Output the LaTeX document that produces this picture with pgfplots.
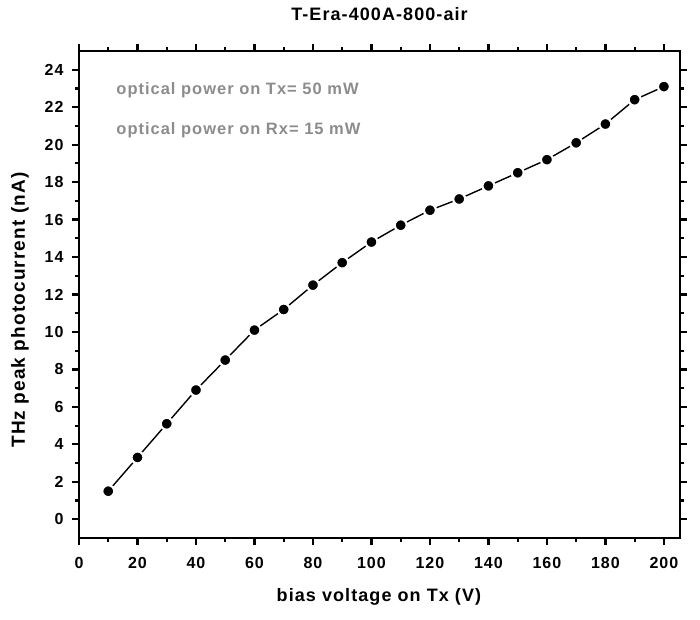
\documentclass[border=0pt]{standalone}
\usepackage{pgfplots}
\pgfplotsset{compat=1.18}
\usepackage{fontspec}
\setmainfont{Liberation Sans}[LetterSpace=6]
\begin{document}
\begin{tikzpicture}[x=1pt,y=1pt]
\useasboundingbox (-79,-81) rectangle (621,538);
\begin{axis}[
  at={(0,0)}, anchor=south west,
  scale only axis, width=601pt, height=487pt,
  xmin=0, xmax=205.5, ymin=-1, ymax=25,
  xtick={0,20,...,200}, minor x tick num=1,
  ytick={0,2,...,24}, minor y tick num=1,
  tick align=outside, major tick length=7pt, minor tick length=4pt,
  axis line style={line width=2.6pt},
  every tick/.style={line width=2.2pt, black},
  /pgf/number format/assume math mode=true,
  tick label style={font=\bfseries\fontsize{16}{16}\selectfont},
  xticklabel style={yshift=-9pt},
  yticklabel style={xshift=-5pt},
  title={T-Era-400A-800-air},
  title style={font=\bfseries\fontsize{18}{20}\selectfont, at={(axis description cs:0.5,1.0637)}, anchor=center},
  xlabel={bias voltage on Tx (V)},
  xlabel style={font=\bfseries\fontsize{18}{20}\selectfont, at={(axis description cs:0.499,-0.121)}, anchor=center},
  ylabel={THz peak photocurrent (nA)},
  ylabel style={font=\bfseries\fontsize{19}{21}\selectfont, at={(axis description cs:-0.0982,0.468)}, anchor=center, rotate=0},
]
\addplot[black, line width=1.4pt, mark=*, mark size=6pt,
  mark options={fill=black, draw=white, line width=2.2pt}]
  coordinates {
  (10,1.5) (20,3.3) (30,5.1) (40,6.9) (50,8.5) (60,10.1) (70,11.2) (80,12.5)
  (90,13.7) (100,14.8) (110,15.7) (120,16.5) (130,17.1) (140,17.8) (150,18.5)
  (160,19.2) (170,20.1) (180,21.1) (190,22.4) (200,23.1)
  };
\node[anchor=west, text=black!45, font=\bfseries\fontsize{16.5}{16.5}\selectfont] at (axis cs:11.6,22.9) {optical power on Tx= 50 mW};
\node[anchor=west, text=black!45, font=\bfseries\fontsize{16.5}{16.5}\selectfont] at (axis cs:11.6,20.77) {optical power on Rx= 15 mW};
\end{axis}
\end{tikzpicture}
\end{document}
